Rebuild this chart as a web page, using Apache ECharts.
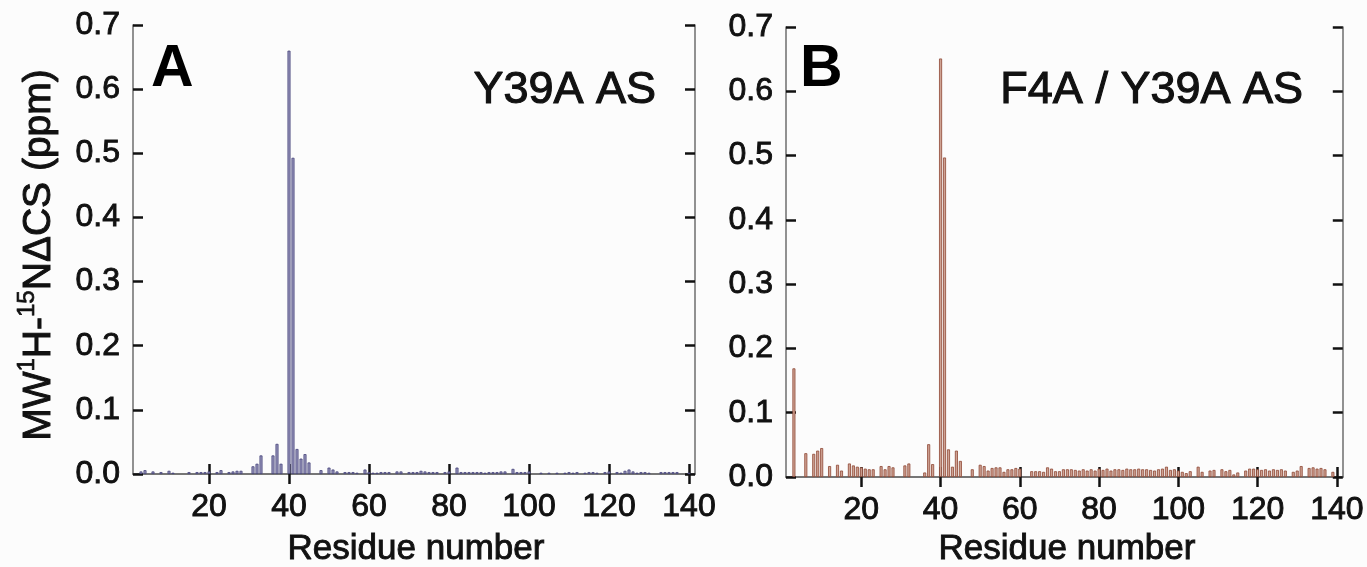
<!DOCTYPE html>
<html>
<head>
<meta charset="utf-8">
<script src="https://cdn.jsdelivr.net/npm/echarts@6/dist/echarts.min.js"></script>
<style>
html,body{margin:0;padding:0;background:#fcfcfc;}
#chart{width:1367px;height:567px;}
</style>
</head>
<body>
<div id="chart"></div>
<script>
// Residue numbers 1..140 (index + 1)
const xTicks = [20, 40, 60, 80, 100, 120, 140];
const yTicks = [0.0, 0.1, 0.2, 0.3, 0.4, 0.5, 0.6, 0.7];

// Panel A: Y39A AS, residues 1..140
const valuesA = [
  0, 0, 0.004, 0.006, 0, 0.004, 0, 0.003, 0, 0.005,
  0.002, 0, 0, 0, 0.003, 0, 0.003, 0.003, 0.003, 0.004,
  0, 0.003, 0.006, 0, 0.003, 0.004, 0.005, 0.005, 0, 0,
  0.012, 0.016, 0.029, 0, 0, 0.029, 0.047, 0.016, 0, 0.660,
  0.493, 0.039, 0.024, 0.031, 0.018, 0, 0, 0.006, 0, 0.010,
  0.007, 0.004, 0, 0.003, 0.003, 0.003, 0.002, 0, 0.007, 0.003,
  0.002, 0.002, 0.003, 0.003, 0.003, 0, 0.004, 0.004, 0, 0.003,
  0.003, 0.003, 0.005, 0.004, 0.003, 0.003, 0.003, 0, 0.003, 0.004,
  0, 0.010, 0.003, 0.003, 0.003, 0.003, 0.003, 0.003, 0.002, 0.003,
  0.003, 0.003, 0.004, 0.004, 0, 0.008, 0.003, 0.003, 0.003, 0.004,
  0, 0, 0.002, 0, 0.002, 0, 0.002, 0, 0.002, 0.003,
  0.002, 0.003, 0, 0.002, 0.003, 0.003, 0.002, 0, 0.003, 0.004,
  0, 0.003, 0.002, 0.005, 0.007, 0.004, 0.002, 0.003, 0.003, 0.002,
  0, 0, 0.003, 0.003, 0.003, 0.003, 0.003, 0, 0, 0.002
];

// Panel B: F4A / Y39A AS, residues 1..140
const valuesB = [
  0, 0, 0.169, 0, 0, 0.037, 0, 0.036, 0.041, 0.045,
  0, 0.017, 0, 0.019, 0.010, 0, 0.021, 0.018, 0.016, 0.015,
  0.013, 0.012, 0.012, 0, 0.017, 0.012, 0.017, 0.015, 0, 0,
  0.018, 0.021, 0, 0, 0, 0.007, 0.051, 0.020, 0, 0.651,
  0.497, 0.043, 0.016, 0.041, 0.025, 0, 0, 0.012, 0, 0.019,
  0.017, 0.010, 0.014, 0.015, 0.015, 0.008, 0.012, 0.012, 0.014, 0.013,
  0, 0, 0.009, 0.009, 0.009, 0.008, 0.015, 0.013, 0.009, 0.009,
  0.012, 0.012, 0.012, 0.011, 0.010, 0.012, 0.010, 0.012, 0.010, 0.013,
  0.011, 0.013, 0.010, 0.012, 0.012, 0.011, 0.013, 0.012, 0.012, 0.013,
  0.012, 0.012, 0.011, 0.010, 0.012, 0.013, 0.016, 0.011, 0.012, 0.010,
  0.008, 0.006, 0.009, 0, 0.016, 0.008, 0, 0.010, 0.011, 0,
  0.012, 0.009, 0.011, 0.004, 0.007, 0, 0.010, 0.013, 0.013, 0.012,
  0.011, 0.012, 0.010, 0.012, 0.011, 0.012, 0.010, 0, 0.008, 0.010,
  0.017, 0, 0.014, 0.015, 0.013, 0.014, 0.012, 0, 0.008, 0
];

const panelLetters = ['A', 'B'];
const panelTitles = ['Y39A AS', 'F4A / Y39A AS'];
const xTitle = 'Residue number';

const FONT = "'Liberation Sans', Arial, Helvetica, sans-serif";
const INK = '#111';
const HEAVY = {textBorderColor: INK, textBorderWidth: 0.9};

function toData(vals) {
  const out = [];
  vals.forEach((v, i) => { if (v > 0) out.push([i + 1, v]); });
  return out;
}

const grids = [
  {left: 133, top: 25, width: 562, height: 449},
  {left: 786, top: 27, width: 562, height: 450}
];

const frameLine = {show: true, lineStyle: {color: '#6e6e6e', width: 1.5}};
const tickStyle = {show: true, inside: true, length: 10, lineStyle: {color: '#111', width: 2.5}};

const xAxes = [], yAxes = [];
grids.forEach((g, gi) => {
  xAxes.push({
    type: 'value', gridIndex: gi, position: 'bottom', min: 1, max: 141.5,
    axisLine: frameLine, splitLine: {show: false},
    axisTick: Object.assign({customValues: xTicks}, tickStyle),
    axisLabel: Object.assign({customValues: xTicks, fontSize: 32, color: INK, fontFamily: FONT, margin: 17}, HEAVY)
  });
  xAxes.push({
    type: 'value', gridIndex: gi, position: 'top', min: 1, max: 141.5,
    axisLine: frameLine, splitLine: {show: false},
    axisTick: Object.assign({customValues: xTicks}, tickStyle),
    axisLabel: {show: false}
  });
  yAxes.push({
    type: 'value', gridIndex: gi, position: 'left', min: 0, max: 0.7, interval: 0.1,
    axisLine: frameLine, splitLine: {show: false},
    axisTick: tickStyle,
    axisLabel: Object.assign({fontSize: 32, color: INK, fontFamily: FONT, margin: 13,
      formatter: v => v.toFixed(1)}, HEAVY)
  });
  yAxes.push({
    type: 'value', gridIndex: gi, position: 'right', min: 0, max: 0.7, interval: 0.1,
    axisLine: frameLine, splitLine: {show: false},
    axisTick: tickStyle,
    axisLabel: {show: false}
  });
});

const series = [
  {
    type: 'bar', xAxisIndex: 0, yAxisIndex: 0, barWidth: 3,
    data: toData(valuesA),
    itemStyle: {color: '#9896bb', borderColor: '#45437a', borderWidth: 0.8},
    z: 1
  },
  {
    type: 'bar', xAxisIndex: 2, yAxisIndex: 2, barWidth: 3,
    data: toData(valuesB),
    itemStyle: {color: '#cfa394', borderColor: '#8e4634', borderWidth: 0.8},
    z: 1
  }
];

const graphics = [
  {type: 'text', left: 151, top: 40, z: 10,
   style: {text: panelLetters[0], fontSize: 59, fontWeight: 'bold', fill: '#000', fontFamily: FONT}},
  {type: 'text', left: 800, top: 40, z: 10,
   style: {text: panelLetters[1], fontSize: 59, fontWeight: 'bold', fill: '#000', fontFamily: FONT}},
  {type: 'text', x: 656, y: 91, z: 10,
   style: {text: panelTitles[0], fontSize: 45, fill: INK, fontFamily: FONT, align: 'right', verticalAlign: 'middle', stroke: INK, lineWidth: 1.1}},
  {type: 'text', x: 1303, y: 91, z: 10,
   style: {text: panelTitles[1], fontSize: 45, fill: INK, fontFamily: FONT, align: 'right', verticalAlign: 'middle', stroke: INK, lineWidth: 1.1}},
  {type: 'text', x: 416, y: 549, z: 10,
   style: {text: xTitle, fontSize: 35, fill: INK, fontFamily: FONT, align: 'center', verticalAlign: 'middle', stroke: INK, lineWidth: 0.9}},
  {type: 'text', x: 1067, y: 549, z: 10,
   style: {text: xTitle, fontSize: 35, fill: INK, fontFamily: FONT, align: 'center', verticalAlign: 'middle', stroke: INK, lineWidth: 0.9}},
  {type: 'text', x: 37, y: 255, rotation: Math.PI / 2, z: 10,
   style: {
     text: '{a|MW}{s|1}{a|H-}{s|15}{a|NΔCS (ppm)}',
     align: 'center', verticalAlign: 'middle',
     rich: {
       a: {fontSize: 39, fill: INK, fontFamily: FONT, lineHeight: 44, verticalAlign: 'bottom', stroke: INK, lineWidth: 1},
       s: {fontSize: 24, fill: INK, fontFamily: FONT, lineHeight: 24, verticalAlign: 'top', padding: [0, 0, 0, 0], stroke: INK, lineWidth: 0.7}
     }
   }}
];

const chart = echarts.init(document.getElementById('chart'), null, {renderer: 'canvas'});
chart.setOption({
  backgroundColor: '#fcfcfc',
  animation: false,
  grid: grids,
  xAxis: xAxes,
  yAxis: yAxes,
  series: series,
  graphic: graphics
});
</script>
</body>
</html>
